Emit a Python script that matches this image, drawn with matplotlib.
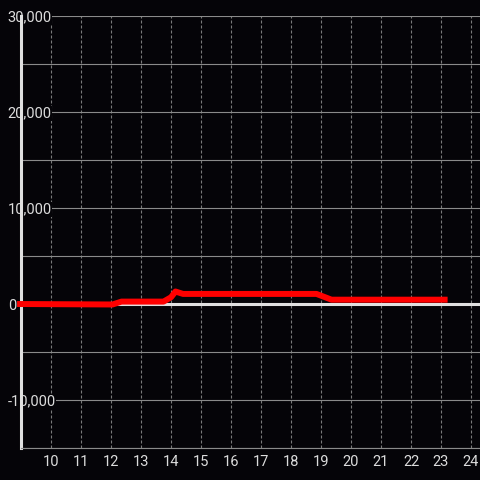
import matplotlib
matplotlib.use('Agg')
import matplotlib.pyplot as plt
from matplotlib.ticker import FuncFormatter, MultipleLocator

plt.rcParams['font.family'] = ['Roboto', 'DejaVu Sans']
plt.rcParams['axes.unicode_minus'] = False

# Data (hour of day vs value)
hours = [8.87, 12.05, 12.35, 13.75, 14.0, 14.15, 14.4, 18.85, 19.35, 23.22]
values = [0, -50, 250, 250, 700, 1300, 1050, 1050, 450, 450]

x_ticks = list(range(10, 25))
y_ticks = [-10000, 0, 10000, 20000, 30000]

bg = '#050408'
label_color = '#dcdcdc'
grid_color = '#8a8a8a'

fig = plt.figure(figsize=(4.8, 4.8), dpi=100, facecolor=bg)
ax = fig.add_axes([20.5 / 480, 32 / 480, 1 - 20.5 / 480, 432 / 480])
ax.set_facecolor(bg)

ax.set_xlim(10 - 30.5 / 30, 24.3)
ax.set_ylim(-15000, 30000)

ax.axhline(0, color='#e0e0e0', linewidth=2.2, zorder=3)
ax.plot(hours, values, color='#ff0000', linewidth=4.3,
        solid_joinstyle='round', solid_capstyle='butt', zorder=4, clip_on=False)

ax.set_xticks(x_ticks)
ax.set_yticks(y_ticks)
ax.yaxis.set_minor_locator(MultipleLocator(10000, offset=5000))
ax.yaxis.set_major_formatter(FuncFormatter(lambda v, p: f'{v:,.0f}'))

ax.grid(axis='x', color='#7a7a7a', linewidth=0.8, linestyle=(0, (2.7, 1.8)))
ax.grid(axis='y', which='both', color=grid_color, linewidth=0.8)

ax.tick_params(axis='x', length=0, pad=5, labelsize=10.5, labelcolor=label_color)
ax.tick_params(axis='y', which='both', length=0, pad=9.2, labelsize=10.5,
               labelcolor=label_color)
for lab in ax.get_yticklabels():
    lab.set_horizontalalignment('left')
    lab.set_bbox(dict(facecolor=bg, edgecolor='none', pad=0.3))

for side in ['top', 'right']:
    ax.spines[side].set_visible(False)
ax.spines['left'].set_color('#e0e0e0')
ax.spines['left'].set_linewidth(2.2)
ax.spines['bottom'].set_color(grid_color)
ax.spines['bottom'].set_linewidth(0.8)

fig.savefig('out.png', dpi=100, facecolor=bg)
